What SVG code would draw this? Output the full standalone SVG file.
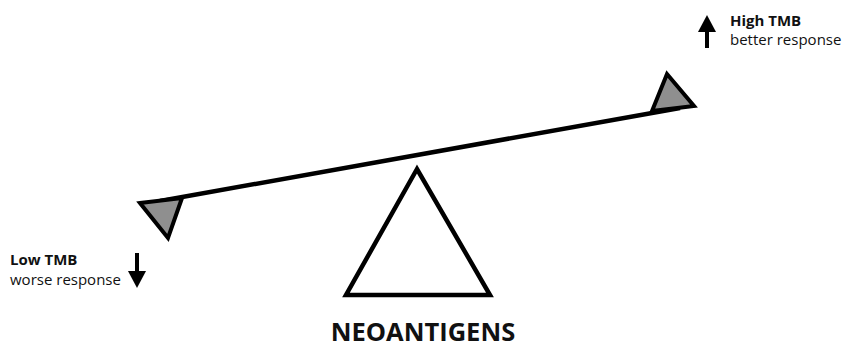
<svg xmlns="http://www.w3.org/2000/svg" width="843" height="348" viewBox="0 0 843 348">
<style>
.lbl{font-family:"Open Sans","Liberation Sans",sans-serif;fill:#111}
.b{font-weight:bold}
.tri{fill:#8f8f8f;stroke:#000;stroke-width:4;stroke-linejoin:miter}
</style>
<rect width="843" height="348" fill="#fff"/>
<g id="connectors">
<line x1="160" y1="201" x2="680" y2="108" stroke="#000" stroke-width="4.5"/>
</g>
<g id="left-weight"><polygon class="tri" points="140,203 182,198 168,238"/></g>
<g id="right-weight"><polygon class="tri" points="667,74 652,111 694,106"/></g>
<g id="fulcrum"><polygon points="417,169 346,295 490,295" fill="#fff" stroke="#000" stroke-width="4.5"/></g>
<g id="high-label">
<line x1="707" y1="28" x2="707" y2="48" stroke="#000" stroke-width="4"/>
<polygon points="707,15 698,32 716,32" fill="#000"/>
<text class="lbl b" x="730" y="26" font-size="15">High TMB</text>
<text class="lbl" x="730" y="45" font-size="15">better response</text>
</g>
<g id="low-label">
<line x1="137" y1="253" x2="137" y2="274" stroke="#000" stroke-width="4"/>
<polygon points="137,288 128,271 146,271" fill="#000"/>
<text class="lbl b" x="10" y="265" font-size="15">Low TMB</text>
<text class="lbl" x="10" y="285" font-size="15">worse response</text>
</g>
<g id="title"><text class="lbl b" x="423" y="341" font-size="25.5" text-anchor="middle">NEOANTIGENS</text></g>
</svg>
